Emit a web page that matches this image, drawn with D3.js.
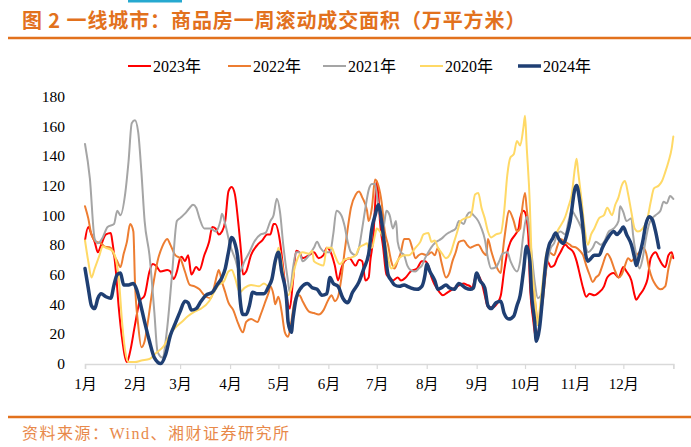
<!DOCTYPE html>
<html><head><meta charset="utf-8">
<script src="https://cdn.jsdelivr.net/npm/d3@7/dist/d3.min.js"></script>
<style>
html,body{margin:0;padding:0;background:#fff;}
svg{display:block;}
</style></head>
<body>
<svg id="c" width="691" height="447"></svg>
<script>
// ---- data (day of year, rolling weekly transaction area, 万平方米) ----
const monthTicks = [0,31,59,90,120,151,181,212,243,273,304,334,365];
const monthLabels = ["1月","2月","3月","4月","5月","6月","7月","8月","9月","10月","11月","12月"];
const yTicks = [0,20,40,60,80,100,120,140,160,180];
const seriesNames = ["2023年","2022年","2021年","2020年","2024年"];

const days2023 = [0,2,4,6,8,10,13,16,17,19,21,23,26,28,31,34,37,40,42,44,47,51,53,55,57,59,60,62,64,66,69,71,74,77,79,81,83,85,87,89,91,93,95,97,98,100,103,107,110,113,115,117,118,121,123,125,127,129,131,133,135,139,142,145,148,150,152,155,157,159,161,164,168,170,172,174,176,177,179,180,181,182,183,185,187,189,191,194,196,199,202,206,209,211,213,215,217,220,222,225,228,231,235,237,239,240,243,246,248,250,253,256,258,260,262,264,267,269,270,272,273,275,276,278,280,281,283,285,287,289,291,293,295,298,300,303,305,307,309,311,313,316,319,322,324,328,331,334,336,339,341,342,344,347,349,351,354,356,358,360,362,364,365];
const vals2023 = [83,92,87,82,75,80,87,88,82,64,37,17,1,8,26,42,46,62,67,66,62,63,62,57,62,71,72,69,73,60,65,63,73,82,92,91,87,89,96,116,119,114,96,73,60,62,73,80,83,87,87,94,94,82,64,46,37,55,76,75,71,73,75,71,73,78,76,66,56,64,69,71,66,70,69,56,58,69,87,107,123,114,96,78,60,58,56,58,56,58,62,64,69,69,66,58,53,48,46,48,50,52,54,53,52,51,60,55,46,38,38,41,46,62,75,82,87,91,98,103,102,87,55,30,16,19,37,55,69,65,66,71,75,80,78,75,69,60,51,45,47,46,48,52,58,61,58,65,62,56,46,43,46,51,57,71,75,71,67,65,73,75,71];

const days2022 = [0,2,4,7,10,12,16,18,20,22,24,26,28,30,31,33,35,37,39,42,45,48,51,53,56,59,62,65,68,71,74,78,80,82,83,85,87,89,92,95,98,100,103,107,109,112,114,115,117,118,120,122,124,126,128,130,133,135,139,142,145,148,151,153,155,157,159,161,163,165,168,170,172,175,176,178,180,182,184,186,188,190,192,194,196,198,201,203,205,207,209,212,215,217,219,221,224,226,228,230,232,235,237,239,241,244,247,249,250,252,255,258,259,261,263,266,268,270,271,273,274,276,278,280,281,284,286,288,291,293,295,298,301,302,305,307,309,311,313,315,317,319,321,324,326,329,331,333,335,337,339,342,344,346,348,350,352,354,357,360,362,364];
const vals2022 = [106,98,87,82,81,79,78,73,69,65,74,82,94,89,55,26,11,15,28,51,69,79,84,80,73,71,62,53,52,50,46,44,51,60,63,55,48,41,36,27,21,28,30,28,33,42,48,52,46,40,45,35,21,18,28,42,46,42,35,34,33,36,43,46,42,45,57,75,91,105,114,116,112,103,96,105,124,120,109,89,80,69,64,69,75,84,84,78,71,73,74,73,75,73,78,69,58,61,69,75,82,83,80,78,79,80,75,73,84,76,66,61,73,91,103,96,89,91,102,115,105,84,55,35,26,42,62,75,73,79,84,82,80,79,78,76,73,66,60,55,58,60,66,74,71,62,58,60,66,71,69,73,75,78,75,64,57,53,50,52,64,73];

const days2021 = [0,3,6,8,11,14,18,20,22,25,27,29,31,33,35,37,40,43,45,48,51,54,57,59,62,65,67,69,71,74,78,81,84,85,87,90,93,96,99,102,105,109,112,115,117,119,121,123,126,127,129,131,133,135,139,142,144,146,149,152,154,156,159,161,163,165,168,170,172,174,176,178,180,181,183,185,187,189,191,193,194,196,198,200,202,205,207,209,211,213,216,218,221,224,227,230,232,235,237,239,241,244,246,248,250,252,255,257,259,262,264,268,270,272,274,275,277,279,281,283,285,287,289,291,293,295,298,300,302,304,306,308,310,312,315,317,320,322,325,328,331,332,334,336,339,340,342,344,346,348,350,352,354,357,359,361,363,365];
const vals2021 = [148,125,84,81,85,92,94,103,100,115,136,162,164,156,129,96,73,35,8,4,24,60,96,98,101,105,107,105,98,91,91,89,96,101,94,80,71,62,69,75,82,87,88,96,100,111,102,80,55,48,64,75,75,69,73,78,82,78,75,75,87,103,100,93,82,75,73,78,91,105,117,121,121,114,100,91,103,100,91,96,82,75,73,66,63,62,64,66,71,75,80,82,84,87,89,91,96,94,100,102,100,96,91,84,71,64,65,69,74,75,69,62,69,87,99,96,75,55,44,46,57,69,78,81,87,89,87,96,103,100,96,91,82,75,78,82,80,82,89,91,96,106,102,96,98,87,73,64,71,84,94,98,100,103,109,108,113,111];

const days2020 = [0,2,4,6,9,11,13,17,19,21,23,25,27,31,35,40,44,49,53,56,60,64,68,72,77,80,83,86,89,91,93,96,99,103,108,111,114,115,118,120,122,124,126,128,130,132,135,139,141,142,145,148,150,153,155,158,161,164,168,170,173,175,176,178,180,181,183,186,188,190,192,195,198,201,205,208,210,213,215,217,219,221,224,227,229,231,233,236,239,240,242,244,246,248,250,252,255,258,260,262,264,266,268,270,272,273,274,276,277,279,281,282,284,286,289,292,294,298,300,302,304,305,306,308,310,312,314,316,319,322,324,327,329,331,333,335,337,339,341,343,346,349,351,353,356,358,360,362,364,365];
const vals2020 = [83,69,58,64,73,79,78,76,71,57,28,8,1,1,2,3,7,12,20,24,28,32,35,37,42,48,53,55,62,63,58,48,51,53,52,54,52,55,66,78,69,53,46,51,64,71,75,74,76,69,67,66,78,78,73,67,70,71,73,78,80,81,78,78,87,91,89,82,71,64,66,71,73,73,78,82,87,88,82,83,78,75,71,75,82,89,96,98,99,102,114,115,105,98,89,85,87,88,102,127,139,141,150,147,159,167,147,107,73,46,26,35,55,73,82,87,91,99,106,114,132,138,129,111,91,80,87,91,98,100,105,100,107,112,120,123,114,102,91,89,91,98,109,118,120,123,129,136,145,153];

const days2024 = [0,2,4,6,8,10,13,16,18,20,22,24,27,30,32,34,37,40,43,47,50,53,56,59,62,64,66,69,72,75,79,82,85,87,89,91,93,95,96,98,100,102,104,107,111,114,116,118,120,122,125,126,128,129,131,134,138,141,144,147,150,152,154,157,160,163,166,170,173,176,178,180,182,184,186,188,190,192,195,198,200,202,206,209,211,212,214,217,219,221,224,226,229,232,236,239,241,243,245,248,250,252,255,258,260,263,266,268,270,272,274,276,277,279,280,282,284,286,288,290,292,294,297,299,301,304,305,307,309,310,312,314,316,319,321,324,328,330,332,334,336,339,341,342,344,346,348,350,352,354,356];
const vals2024 = [64,51,39,37,44,47,45,44,53,60,61,53,53,54,50,42,28,15,4,0,6,19,27,35,42,41,36,37,42,46,48,53,58,64,75,85,81,69,46,33,33,39,48,47,47,52,57,69,75,62,44,28,21,30,44,51,54,51,50,46,47,58,54,52,44,41,48,55,64,74,91,100,107,96,78,60,56,53,52,53,52,51,50,52,60,67,62,56,50,51,53,51,50,54,51,50,51,61,56,51,39,37,41,42,34,30,32,39,46,62,79,69,48,28,15,24,46,69,80,84,88,84,81,87,96,118,120,109,91,78,69,71,73,73,78,84,89,87,89,92,87,80,71,66,73,82,94,99,97,89,78];

const seriesDays = [days2023, days2022, days2021, days2020, days2024];
const seriesVals = [vals2023, vals2022, vals2021, vals2020, vals2024];
const seriesColors = ["#ff0000","#ed7d31","#a5a5a5","#ffd966","#1f3f73"];
const seriesWidths = [2,2,2,2,3.5];

// ---- chart ----
const svg = d3.select("#c");
const serif = "'Liberation Serif','Noto Sans CJK SC',serif";

svg.append("rect").attr("x",128).attr("y",0).attr("width",54).attr("height",2.5).attr("fill","#26a9d0");

svg.append("text").attr("x",22).attr("y",28)
  .attr("font-family","'Noto Sans CJK SC',sans-serif").attr("font-weight","bold")
  .attr("font-size",20).attr("letter-spacing",0.9).attr("fill","#e2711d")
  .text("图 2  一线城市：商品房一周滚动成交面积（万平方米）");
svg.append("line").attr("x1",8).attr("x2",691).attr("y1",38).attr("y2",38)
  .attr("stroke","#e2711d").attr("stroke-width",2.5);

const x = d3.scaleLinear().domain([0,365]).range([85,673.3]);
const y = d3.scaleLinear().domain([0,180]).range([363.5,96.5]);

// y axis labels
const ya = svg.append("g").attr("transform","translate(72,0)")
  .call(d3.axisLeft(y).tickValues(yTicks).tickSize(0).tickPadding(7));
ya.select(".domain").remove();
ya.selectAll("text").attr("font-family",serif).attr("font-size",15.5).attr("fill","#000");

// x axis
const xa = svg.append("g").attr("transform","translate(0,364)")
  .call(d3.axisBottom(x).tickValues(monthTicks).tickSize(5).tickPadding(9)
    .tickFormat((d,i)=> i < monthLabels.length ? monthLabels[i] : ""));
xa.select(".domain").attr("stroke","#d9d9d9").attr("stroke-width",1.5);
xa.selectAll(".tick line").attr("stroke","#d9d9d9").attr("stroke-width",1.2);
xa.selectAll("text").attr("font-family",serif).attr("font-size",15).attr("fill","#000");

// lines
const line = d3.line().curve(d3.curveMonotoneX);
seriesNames.forEach((name,i)=>{
  const pts = seriesDays[i].map((d,j)=>[x(d), y(seriesVals[i][j])]);
  svg.append("path").attr("d", line(pts)).attr("fill","none")
    .attr("stroke",seriesColors[i]).attr("stroke-width",seriesWidths[i])
    .attr("stroke-linejoin","round").attr("stroke-linecap","round");
});

// legend
const legendX = [128,228,323,420,518];
seriesNames.forEach((name,i)=>{
  const g = svg.append("g").attr("transform",`translate(${legendX[i]},66)`);
  g.append("line").attr("x1",0).attr("x2",23).attr("y1",0).attr("y2",0)
    .attr("stroke",seriesColors[i]).attr("stroke-width",seriesWidths[i]);
  g.append("text").attr("x",25).attr("y",5.5).attr("font-family",serif)
    .attr("font-size",16).attr("fill","#000").text(name);
});

// footer
svg.append("line").attr("x1",8).attr("x2",691).attr("y1",417).attr("y2",417)
  .attr("stroke","#e2711d").attr("stroke-width",2.5);
svg.append("text").attr("x",22).attr("y",439).attr("font-family",serif)
  .attr("font-size",16).attr("letter-spacing",1.5).attr("fill","#e8894a").text("资料来源：Wind、湘财证券研究所");
</script>
</body></html>
